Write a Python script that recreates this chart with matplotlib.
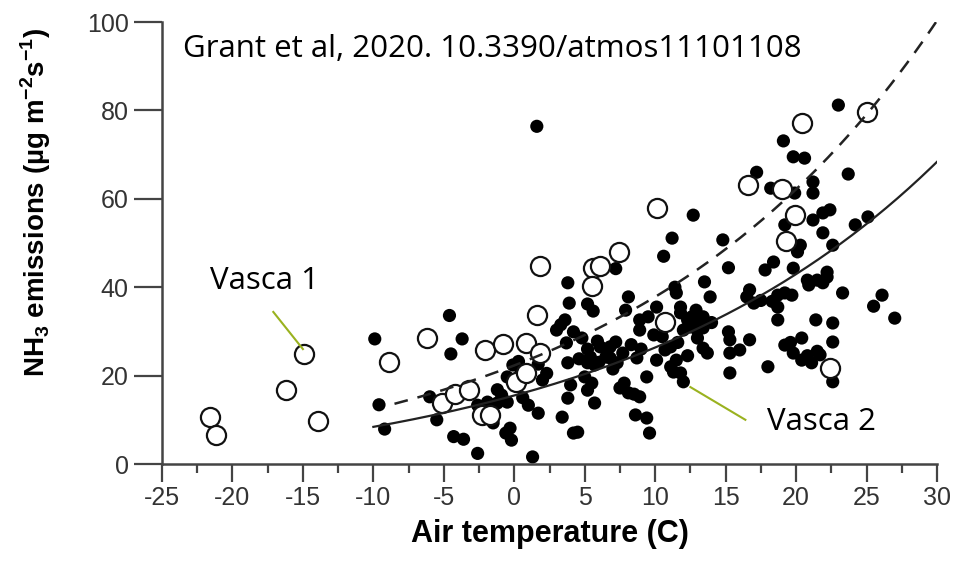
import numpy as np
import matplotlib
matplotlib.use("Agg")
import matplotlib.pyplot as plt

# Data
# Vasca 1 - open circles
v1_temp = [-21.6, -21.2, -16.2, -14.9, -13.9, -8.9, -6.2, -5.1, -4.2, -3.2, -2.3, -1.7,
           -2.1, -0.8, 0.1, 0.8, 0.8, 1.8, 1.6, 1.8, 5.6, 6.1, 5.5, 7.4, 10.1, 10.7,
           16.6, 19.0, 19.9, 19.3, 20.4, 25.0, 22.4]
v1_nh3 = [10.6, 6.6, 16.7, 24.9, 9.7, 23.0, 28.5, 13.8, 15.8, 16.7, 11.1, 11.1,
          25.8, 27.1, 18.6, 20.6, 27.4, 25.1, 33.7, 44.8, 44.3, 44.8, 40.3, 48.0, 57.9, 32.1,
          63.1, 62.2, 56.3, 50.5, 77.1, 79.6, 21.7]

# Vasca 2 - filled dots
v2_temp = [-9.9, -4.6, -3.7, -4.5, -9.6, -9.2, -6.0, -5.5, -4.3, -3.6, -2.6, 1.3,
           -2.6, -1.2, -0.9, -0.5, -1.5, -0.6, -0.2, -0.3, -0.5, -0.1, 0.4, 0.6, 1.0,
           1.7, 2.0, 1.7, 1.6, -1.9,
           3.8, 3.9, 5.2, 5.6, 3.6, 3.0, 4.2, 3.7, 3.8, 5.2, 5.4, 6.1, 6.8, 7.2, 7.7,
           7.3, 6.5, 5.2, 5.7, 5.0, 5.5, 5.2, 4.0, 3.8, 5.7, 3.4, 4.2, 4.5, 7.5, 8.1,
           8.9, 8.6, 9.4, 9.6, 9.4, 8.7, 8.1, 7.9, 8.9, 9.5, 8.9, 10.1, 7.2, 10.6,
           11.2, 12.7,
           10.1, 10.7, 11.1, 11.1, 11.5, 11.3, 11.8, 12.0, 11.4, 11.5, 11.8, 11.8, 12.3,
           12.6, 13.0, 13.0, 13.4, 13.4, 12.0, 13.5, 13.9, 13.4, 13.7, 15.2, 15.3, 15.3,
           15.3, 14.8, 15.2,
           16.5, 17.0, 18.7, 19.2, 19.7, 18.7, 18.7, 20.8, 21.5, 22.2, 23.3, 26.1, 25.5,
           27.0, 21.4, 22.6, 22.6, 20.4, 19.2, 19.8, 20.4, 21.1, 21.7, 22.6, 18.0, 16.7,
           16.0, 23.0, 19.1, 19.8, 20.6, 23.7, 17.2, 18.2, 19.9, 21.2, 21.2, 22.4, 21.9,
           21.2, 19.2, 21.9, 20.3, 20.1, 22.6, 24.2, 25.1, 18.4, 17.8, 19.8, 22.2, 16.7,
           0.3, 2.3, -1.2, 4.6, 6.0, 6.8, 7.0, 4.8, 5.9, 8.3, 9.0, 10.5, 12.5, 12.9,
           14.0, 11.6, 12.3, 13.0, 17.5, 18.3, 20.9, 21.9, 19.6, 21.5, 20.8, 7.8, 8.5,
           9.9, 3.3]
v2_nh3 = [28.3, 33.6, 28.3, 24.9, 13.4, 7.9, 15.2, 10.0, 6.2, 5.6, 2.4, 1.6,
          13.3, 13.8, 15.6, 14.0, 9.3, 7.0, 5.4, 8.1, 19.7, 22.4, 21.8, 15.0, 13.3,
          22.6, 19.0, 11.5, 76.4, 14.0,
          41.0, 36.4, 36.2, 34.6, 32.6, 30.3, 29.9, 27.4, 22.9, 26.0, 24.2, 26.5, 26.5, 27.6, 25.1,
          22.9, 24.2, 22.9, 22.4, 19.7, 18.3, 16.7, 17.9, 14.9, 13.8, 10.6, 7.0, 7.2, 17.2, 16.1,
          15.2, 11.1, 10.4, 7.0, 19.7, 24.0, 37.8, 34.8, 32.6, 33.3, 30.3, 35.5, 44.2, 47.0,
          51.1, 56.3,
          23.5, 25.8, 26.5, 22.0, 23.5, 20.8, 20.6, 18.6, 40.0, 38.7, 35.5, 34.2, 32.6,
          33.3, 31.9, 30.3, 30.8, 33.3, 30.3, 41.2, 37.8, 26.2, 25.1, 29.9, 28.1, 25.1,
          20.6, 50.7, 44.4,
          37.8, 36.4, 38.2, 38.7, 38.2, 35.5, 32.6, 41.6, 41.6, 42.3, 38.7, 38.2, 35.7,
          33.0, 32.6, 31.9, 27.6, 28.5, 26.9, 25.1, 23.5, 22.9, 24.7, 18.6, 22.0, 28.1,
          25.8, 81.2, 73.1, 69.5, 69.2, 65.6, 66.0, 62.4, 61.3, 63.8, 61.3, 57.5, 56.8,
          55.2, 54.1, 52.3, 49.5, 48.0, 49.5, 54.1, 55.9, 45.7, 43.9, 44.3, 43.4, 39.4,
          23.2, 20.5, 16.8, 23.8, 23.0, 24.0, 21.5, 28.5, 27.8, 27.0, 26.0, 28.8, 31.0, 34.8,
          32.0, 27.5, 24.5, 28.5, 37.0, 36.8, 40.5, 41.0, 27.5, 25.5, 24.5, 18.3, 15.8,
          29.2, 31.5]

# Fitted curves  y = a * exp(b * T) + c
fit1 = (27.3, 0.045, -5.0)   # Vasca 1, dashed
fit2 = (20.5, 0.0425, -5.0)  # Vasca 2, solid
fit1_start = -8.5
fit2_start = -10.0

xticks = [-25, -20, -15, -10, -5, 0, 5, 10, 15, 20, 25, 30]
yticks = [0, 20, 40, 60, 80, 100]

plt.rcParams['axes.unicode_minus'] = False
plt.rcParams['mathtext.fontset'] = 'custom'
plt.rcParams['mathtext.rm'] = 'Liberation Sans:bold'
plt.rcParams['mathtext.bf'] = 'Liberation Sans:bold'

fig = plt.figure(figsize=(9.68, 5.78), dpi=100)
ax = fig.add_axes([162 / 968, 1 - 464 / 578, (937 - 162) / 968, (464 - 22) / 578])

ax.scatter(v2_temp, v2_nh3, s=90, c='black', edgecolors='none', zorder=2)
ax.scatter(v1_temp, v1_nh3, s=190, facecolors='white', edgecolors='#111111', linewidths=1.6, zorder=3)

t1 = np.linspace(fit1_start, 30, 200)
t2 = np.linspace(fit2_start, 30, 200)
ax.plot(t1, fit1[0] * np.exp(fit1[1] * t1) + fit1[2], color='#222222', lw=1.8,
        dashes=(5.5, 4), zorder=4)
ax.plot(t2, fit2[0] * np.exp(fit2[1] * t2) + fit2[2], color='#222222', lw=1.6, zorder=4)

ax.set_xlim(-25, 30)
ax.set_ylim(0, 100)
ax.set_xticks(xticks)
ax.set_xticks(np.arange(-22.5, 30, 5), minor=True)
ax.set_yticks(yticks)
for s in ['top', 'right']:
    ax.spines[s].set_visible(False)
for s in ['left', 'bottom']:
    ax.spines[s].set_color('#444444')
    ax.spines[s].set_linewidth(1.8)
ax.tick_params(which='major', direction='out', width=1.6, color='#444444',
               labelsize=18, labelcolor='#333333')
ax.tick_params(axis='x', which='major', length=13, pad=3)
ax.tick_params(axis='y', which='major', length=20, pad=4)
ax.tick_params(which='minor', direction='out', length=6.5, width=1.6, color='#444444')
for lab in ax.get_xticklabels() + ax.get_yticklabels():
    lab.set_family('Liberation Sans')

ax.set_xlabel('Air temperature (C)', fontsize=22, fontweight='bold',
              family='Liberation Sans', labelpad=6)
fig.text(0.037, 0.65, r'NH$_{3}$ emissions (µg m$^{\mathrm{-2}}$s$^{\mathrm{-1}}$)',
         rotation=90, fontsize=20, fontweight='bold', family='Liberation Sans',
         ha='center', va='center')

# Annotations
ax.text(-23.5, 94.0, 'Grant et al, 2020. 10.3390/atmos11101108', fontsize=22.5,
        family='Open Sans', ha='left', va='center')
ax.text(-17.7, 41.4, 'Vasca 1', fontsize=22.5, family='Open Sans', ha='center', va='center')
ax.text(21.8, 9.6, 'Vasca 2', fontsize=22.5, family='Open Sans', ha='center', va='center')
ax.plot([-17.1, -15.0], [34.4, 26.0], color='#9ab21f', lw=1.5, zorder=5)
ax.plot([12.5, 16.4], [17.4, 10.0], color='#9ab21f', lw=1.5, zorder=5)

plt.savefig('out.png', dpi=100)
